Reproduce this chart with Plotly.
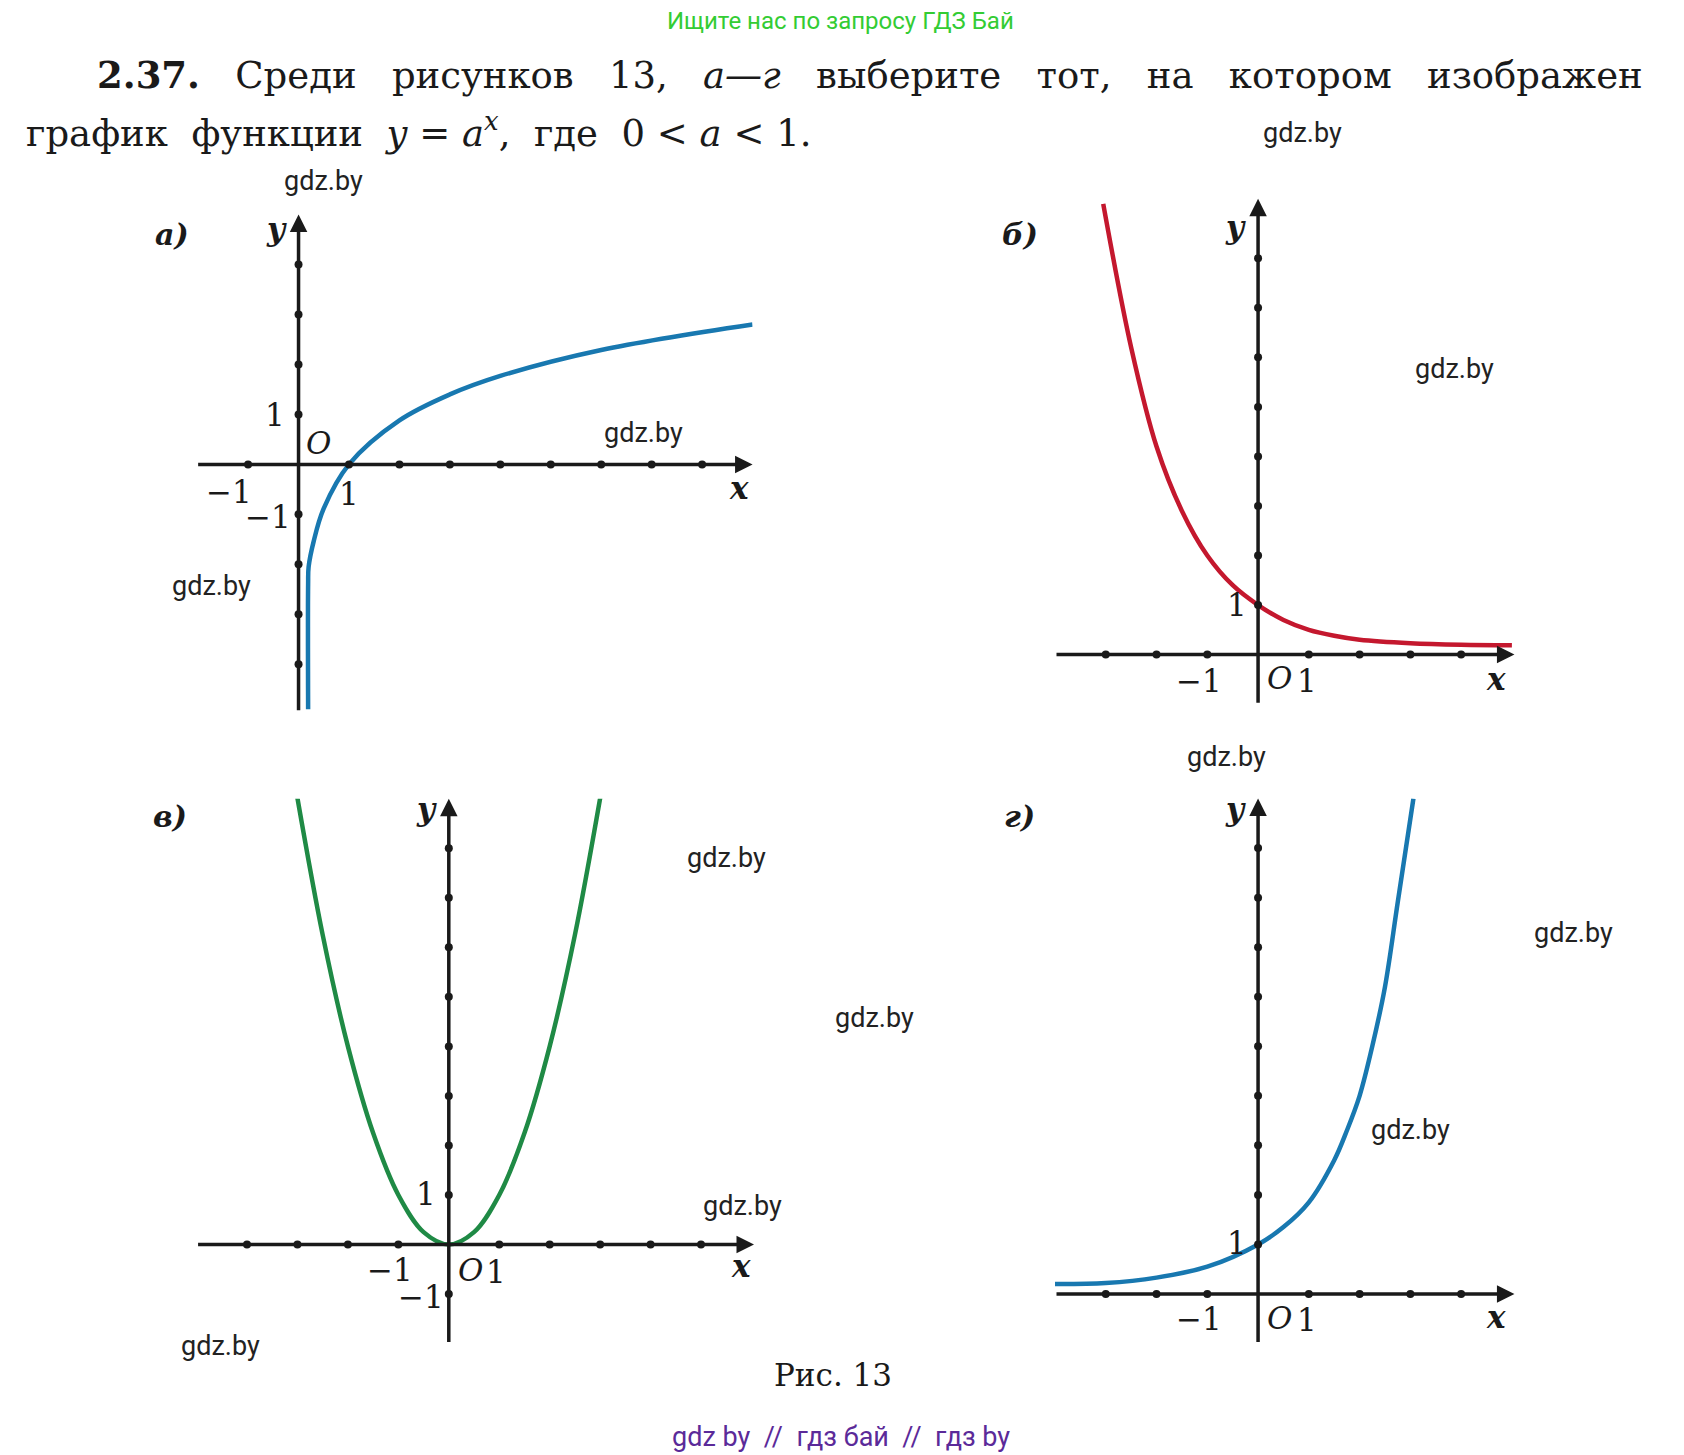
import plotly.graph_objects as go

W, H = 1684, 1455
# positions below are in a 1569 x 1354 grid; the page adds an ~8px margin
DW, DH, OFF = 1569.0, 1354.0, 7.3

# curve points
a_x = [0.19, 0.19, 0.2, 0.3, 0.5, 1, 2, 3, 4, 6, 9]
a_y = [-4.9, -2.4, -2.05, -1.54, -0.88, 0, 0.88, 1.40, 1.77, 2.29, 2.8]
b_x = [-3.05, -2.5, -2, -1.5, -1, -0.5, 0, 0.5, 1, 1.5, 2, 3, 4, 5]
b_y = [9.1, 6.2, 4.2, 2.9, 2.0, 1.4, 1.0, 0.7, 0.5, 0.38, 0.3, 0.23, 0.2, 0.19]
v_x = [-3.05, -2.5, -2, -1.5, -1, -0.5, 0, 0.5, 1, 1.5, 2, 2.5, 3.05]
v_y = [9.3, 6.25, 4, 2.25, 1, 0.25, 0, 0.25, 1, 2.25, 4, 6.25, 9.3]
g_x = [-4, -3, -2, -1, 0, 0.5, 1, 1.5, 1.75, 2, 2.25, 2.5, 2.75, 3.06]
g_y = [0.2, 0.22, 0.33, 0.55, 1.0, 1.35, 1.85, 2.7, 3.3, 4.0, 5.0, 6.2, 7.9, 10.0]

panels = [
    dict(o=(278, 432), u=(47, 46.5), xr=(-2.02, 9.0), yr=(-4.95, 5.0),
         xt=[-1, 1, 2, 3, 4, 5, 6, 7, 8], yt=[-4, -3, -2, -1, 1, 2, 3, 4],
         cx=a_x, cy=a_y, col="#1878b0"),
    dict(o=(1172, 609), u=(47.3, 46.1), xr=(-4.0, 5.05), yr=(-1.0, 9.2),
         xt=[-3, -2, -1, 1, 2, 3, 4], yt=[1, 2, 3, 4, 5, 6, 7, 8],
         cx=b_x, cy=b_y, col="#c4182e"),
    dict(o=(418, 1158), u=(47, 46.1), xr=(-5.0, 6.05), yr=(-2.0, 9.0),
         xt=[-4, -3, -2, -1, 1, 2, 3, 4, 5], yt=[-1, 1, 2, 3, 4, 5, 6, 7, 8],
         cx=v_x, cy=v_y, col="#1f8a45"),
    dict(o=(1172, 1204), u=(47.3, 46.1), xr=(-4.0, 5.05), yr=(-1.0, 10.0),
         xt=[-3, -2, -1, 1, 2, 3, 4], yt=[1, 2, 3, 4, 5, 6, 7, 8, 9],
         cx=g_x, cy=g_y, col="#1878b0"),
]

def px(x):
    return (x - OFF) / DW

def py(y):
    return 1 - (y - OFF) / DH

fig = go.Figure()
layout = dict(width=W, height=H, margin=dict(l=0, r=0, t=0, b=0),
              paper_bgcolor="white", plot_bgcolor="white", showlegend=False)
ann = []
for i, p in enumerate(panels):
    n = "" if i == 0 else str(i + 1)
    xa, ya = "x" + n, "y" + n
    (ox, oy), (ux, uy) = p["o"], p["u"]
    x0, x1 = ox + p["xr"][0] * ux, ox + p["xr"][1] * ux
    y0, y1 = oy - p["yr"][0] * uy, oy - p["yr"][1] * uy
    layout["xaxis" + n] = dict(domain=[px(x0), px(x1)], range=list(p["xr"]),
                               visible=False, anchor=ya)
    layout["yaxis" + n] = dict(domain=[py(y0), py(y1)], range=list(p["yr"]),
                               visible=False, anchor=xa)
    # axes with arrows
    ann.append(dict(x=p["xr"][1], y=0, ax=p["xr"][0], ay=0, xref=xa, yref=ya,
                    axref=xa, ayref=ya, showarrow=True, arrowhead=2,
                    arrowsize=1, arrowwidth=3.5, arrowcolor="#1a1a1a", text=""))
    ann.append(dict(x=0, y=p["yr"][1], ax=0, ay=p["yr"][0], xref=xa, yref=ya,
                    axref=xa, ayref=ya, showarrow=True, arrowhead=2,
                    arrowsize=1, arrowwidth=3.5, arrowcolor="#1a1a1a", text=""))
    fig.add_trace(go.Scatter(x=p["cx"], y=p["cy"], mode="lines", line_shape="spline",
                             line=dict(color=p["col"], width=4.5), xaxis=xa, yaxis=ya,
                             cliponaxis=False))
    fig.add_trace(go.Scatter(x=p["xt"] + [0] * len(p["yt"]),
                             y=[0] * len(p["xt"]) + p["yt"], mode="markers",
                             marker=dict(color="#1a1a1a", size=8), xaxis=xa, yaxis=ya,
                             cliponaxis=False))

SERIF = "DejaVu Serif"
SANS = "Roboto"

def txt(x, y, s, size=34, fam=SERIF, color="#1a1a1a", xanchor="center"):
    ann.append(dict(x=px(x), y=py(y), xref="paper", yref="paper", text=s,
                    showarrow=False, xanchor=xanchor, yanchor="middle",
                    font=dict(family=fam, size=size, color=color)))

sp = "&nbsp;&nbsp;&nbsp;"
txt(88, 70, "<b>2.37.</b>" + sp + sp.join(["Среди", "рисунков", "13,", "<i>а—г</i>", "выберите",
    "тот,", "на", "котором", "изображен"]), 37, xanchor="left")
txt(22, 121, "график&nbsp; функции&nbsp; <i>y</i> = <i>a</i><sup><i>x</i></sup>,&nbsp; где&nbsp; 0 &lt; <i>a</i> &lt; 1.",
    37, xanchor="left")
txt(783, 19, "Ищите нас по запросу ГДЗ Бай", 24, SANS, "#33cc33")

for (x, y) in [(1213, 124), (301, 168), (599, 403), (197, 545), (1355, 343),
               (1143, 704), (677, 798), (815, 947), (692, 1122), (205, 1252),
               (1466, 868), (1314, 1051)]:
    txt(x, y, "gdz.by", 27, SANS, "#222222")

for (x, y, s) in [(160, 218, "а)"), (950, 218, "б)"), (158, 760, "в)"), (950, 760, "г)")]:
    txt(x, y, "<b><i>" + s + "</i></b>", 30)

labels = [
    (256, 386, "1"), (297, 412, "<i>O</i>"), (213, 458, "−1"), (325, 460, "1"),
    (250, 481, "−1"), (688, 454, "<b><i>x</i></b>"), (257, 213, "<b><i>y</i></b>"),
    (1152, 563, "1"), (1117, 634, "−1"), (1192, 631, "<i>O</i>"), (1218, 634, "1"),
    (1394, 632, "<b><i>x</i></b>"), (1151, 211, "<b><i>y</i></b>"),
    (397, 1111, "1"), (363, 1182, "−1"), (438, 1182, "<i>O</i>"), (462, 1184, "1"),
    (392, 1207, "−1"), (690, 1178, "<b><i>x</i></b>"), (397, 753, "<b><i>y</i></b>"),
    (1152, 1157, "1"), (1117, 1227, "−1"), (1192, 1226, "<i>O</i>"), (1218, 1228, "1"),
    (1394, 1225, "<b><i>x</i></b>"), (1151, 753, "<b><i>y</i></b>"),
]
for x, y, s in labels:
    txt(x, y, s, 31)

txt(776, 1279, "Рис. 13", 31)
txt(783, 1337, "gdz by&nbsp; //&nbsp; гдз бай&nbsp; //&nbsp; гдз by", 27, SANS, "#5b2a99")

layout["annotations"] = ann
fig.update_layout(**layout)
fig.write_html("out.html")
